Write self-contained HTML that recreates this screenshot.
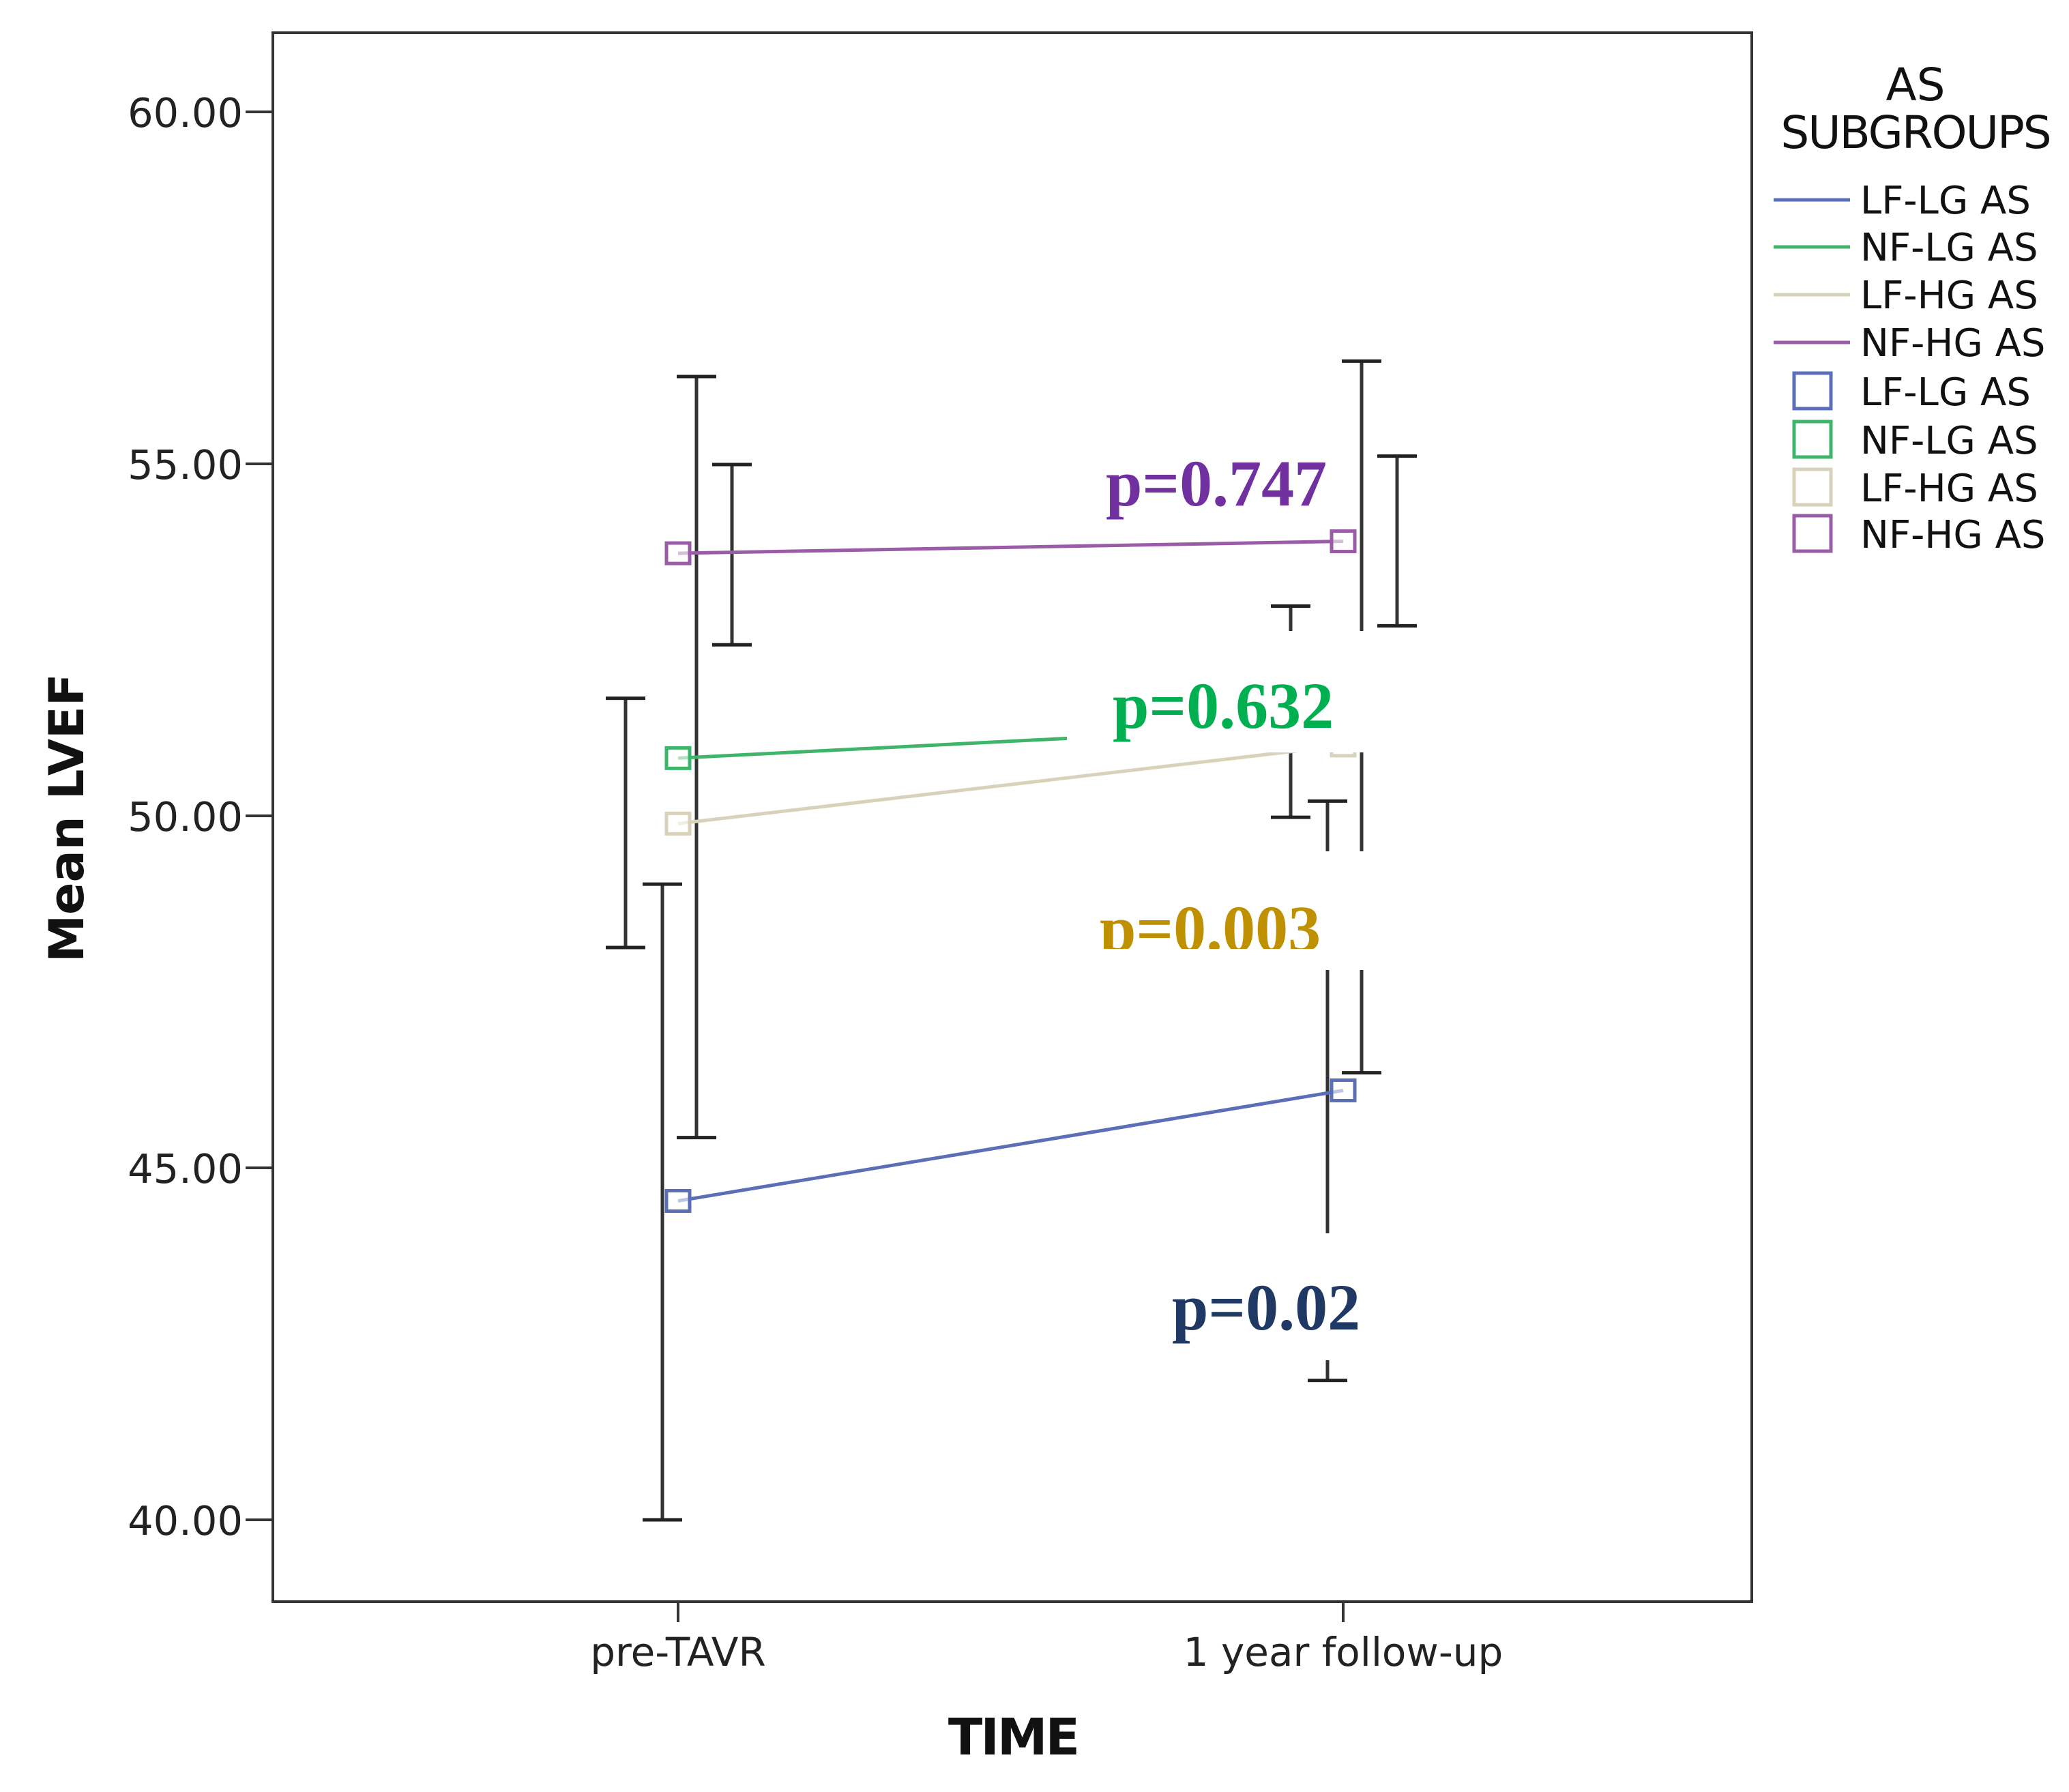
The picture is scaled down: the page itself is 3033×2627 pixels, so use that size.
<!DOCTYPE html>
<html><head><meta charset="utf-8"><style>
html,body{margin:0;padding:0;background:#fff;}
svg{display:block;}
text{font-family:"DejaVu Sans","Liberation Sans",sans-serif;}
.pl{font-family:"Liberation Serif",serif;font-weight:bold;font-size:96px;}
</style></head><body>
<svg id="chart" width="3033" height="2627" viewBox="0 0 3033 2627" xmlns="http://www.w3.org/2000/svg">
<g id="marks"></g>
<rect x="400" y="48" width="2168" height="2300" fill="none" stroke="#333" stroke-width="4"/>
<g id="axes"></g>
<text transform="translate(122,1199) rotate(-90)" text-anchor="middle" font-size="70" font-weight="bold" fill="#111">Mean LVEF</text>
<text x="1485" y="2572" text-anchor="middle" font-size="74" font-weight="bold" fill="#111" letter-spacing="-3">TIME</text>
<g>
<text x="2808" y="147" text-anchor="middle" font-size="66" fill="#111">AS</text>
<text x="2808" y="217" text-anchor="middle" font-size="66" fill="#111" letter-spacing="-2">SUBGROUPS</text>
<g id="legend-items"></g>
</g>
</svg>
<script>
const categories = ["pre-TAVR", "1 year follow-up"];
const seriesNames = ["LF-LG AS", "NF-LG AS", "LF-HG AS", "NF-HG AS"];
const lfLgMeans = [44.53, 46.1];
const nfLgMeans = [50.82, 51.3];
const lfHgMeans = [49.89, 51.0];
const nfHgMeans = [53.73, 53.9];
const lfLgLow = [40.0, 41.98];
const lfLgHigh = [49.03, 50.21];
const nfLgLow = [48.13, 49.98];
const nfLgHigh = [51.67, 52.98];
const lfHgLow = [45.43, 46.35];
const lfHgHigh = [56.24, 56.46];
const nfHgLow = [52.43, 52.7];
const nfHgHigh = [54.99, 55.11];
const yTicks = [40, 45, 50, 55, 60];
const yTickLabels = ["40.00", "45.00", "50.00", "55.00", "60.00"];
const pLabels = ["p=0.02", "p=0.632", "p=0.003", "p=0.747"];

const NS = "http://www.w3.org/2000/svg";
function yScale(v){ return 2228 - (v - 40) * 103.2; }
function xScale(i){ return 994 + i * 975; }
function mk(tag, attrs, parent){ const e = document.createElementNS(NS, tag); for (const k in attrs) e.setAttribute(k, attrs[k]); parent.appendChild(e); return e; }

const marks = document.getElementById('marks');
const axes = document.getElementById('axes');
const colors = ["#5b6fb8", "#3fb56c", "#d9d2bb", "#9a5ca6"];
const means = [lfLgMeans, nfLgMeans, lfHgMeans, nfHgMeans];
const lows = [lfLgLow, nfLgLow, lfHgLow, nfHgLow];
const highs = [lfLgHigh, nfLgHigh, lfHgHigh, nfHgHigh];
const offs = [-23, -77, 27, 79];

yTicks.forEach((t, i) => {
  const y = yScale(t);
  const tk = mk('line', {x1: 360, x2: 400, y1: y, y2: y, stroke: '#333', 'stroke-width': 4}, axes);
  
  
  const lb = mk('text', {x: 356, y: y + 22, 'text-anchor': 'end', 'font-size': 59, fill: '#222'}, axes);
  lb.textContent = yTickLabels[i];
  
  
});
categories.forEach((c, i) => {
  const x = xScale(i);
  const tk = mk('line', {x1: x, x2: x, y1: 2348, y2: 2378, stroke: '#333', 'stroke-width': 4}, axes);
  
  
  const lb = mk('text', {x: x, y: 2442, 'text-anchor': 'middle', 'font-size': 58, fill: '#222'}, axes);
  lb.textContent = c;
  
  
});

[0,1,2,3].forEach(s => {
  categories.forEach((c, i) => {
    const x = xScale(i) + offs[s];
    const g = mk('g', {}, marks);
    
    
    const yl = yScale(lows[s][i]), yh = yScale(highs[s][i]);
    mk('line', {x1: x, x2: x, y1: yh, y2: yl, stroke: '#333', 'stroke-width': 5}, g);
    mk('line', {x1: x - 29, x2: x + 29, y1: yh, y2: yh, stroke: '#222', 'stroke-width': 5}, g);
    mk('line', {x1: x - 29, x2: x + 29, y1: yl, y2: yl, stroke: '#222', 'stroke-width': 5}, g);
  });
});
means.forEach((m, s) => {
  const ln = mk('line', {x1: xScale(0), y1: yScale(m[0]), x2: xScale(1), y2: yScale(m[1]), stroke: colors[s], 'stroke-width': 5}, marks);
  
  
  m.forEach((v, i) => {
    const r = mk('rect', {x: xScale(i) - 17, y: yScale(v) - 15, width: 34, height: 30, fill: '#fff', 'fill-opacity': 0.6, stroke: colors[s], 'stroke-width': 5}, marks);
    
    
  });
});

const boxes = [
  {x: 1700, y: 1808, w: 330, h: 186, tx: 1718, ty: 1949, c: '#1f3864'},
  {x: 1564, y: 925, w: 540, h: 178, tx: 1631, ty: 1067, c: '#00b050'},
  {x: 1600, y: 1248, w: 510, h: 174, tx: 1612, ty: 1394, c: '#bf9000', clip: 1391},
  {x: 0, y: 0, w: 0, h: 0, tx: 1621, ty: 741, c: '#7030a0'}
];
boxes.forEach((b, i) => {
  if (b.w > 0) {
    const r = mk('rect', {x: b.x, y: b.y, width: b.w, height: b.h, fill: '#fff'}, marks);
    
    
  }
  const t = mk('text', {x: b.tx, y: b.ty, fill: b.c, class: 'pl'}, marks);
  t.textContent = pLabels[i];
  
  
  if (b.clip) {
    const cp = mk('clipPath', {id: 'cp' + i}, marks);
    mk('rect', {x: b.x, y: b.y, width: b.w, height: b.clip - b.y}, cp);
    t.setAttribute('clip-path', 'url(#cp' + i + ')');
  }
});

const li = document.getElementById('legend-items');
const legY = [293, 362, 432, 502, 574, 645, 715, 783];
seriesNames.forEach((n, s) => {
  const y = legY[s];
  const l = mk('line', {x1: 2600, x2: 2712, y1: y, y2: y, stroke: colors[s], 'stroke-width': 5}, li);
  
  
  const t = mk('text', {x: 2727, y: y + 20, 'font-size': 56, fill: '#111'}, li);
  t.textContent = n;
  
  
});
seriesNames.forEach((n, s) => {
  const y = legY[s + 4];
  const r = mk('rect', {x: 2630, y: y - 27, width: 54, height: 52, fill: 'none', stroke: colors[s], 'stroke-width': 5}, li);
  
  
  const t = mk('text', {x: 2727, y: y + 20, 'font-size': 56, fill: '#111'}, li);
  t.textContent = n;
  
  
});
</script>
</body></html>
